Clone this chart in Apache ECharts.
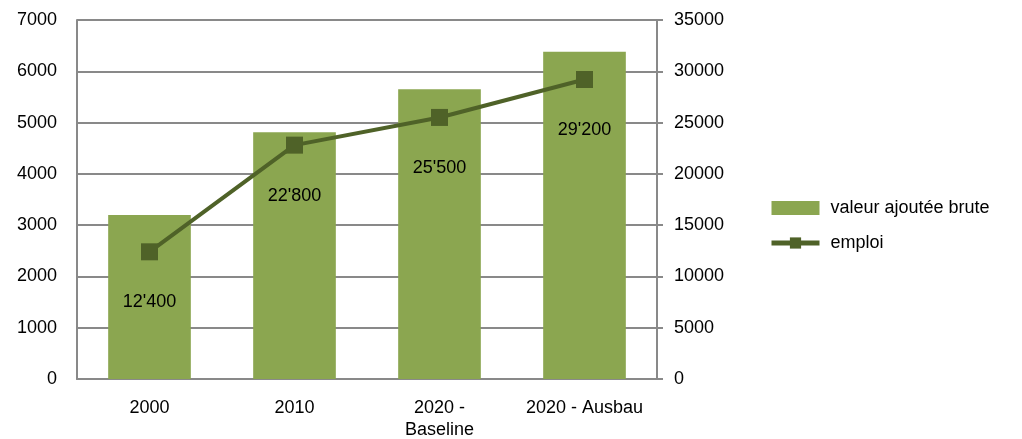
<!DOCTYPE html>
<html><head><meta charset="utf-8">
<script src="https://cdn.jsdelivr.net/npm/echarts@6/dist/echarts.min.js"></script>
<style>html,body{margin:0;padding:0;background:#fff}#c{width:1022px;height:439px}</style>
</head><body><div id="c"></div>
<script>
var categories = ['2000', '2010', '2020 -\nBaseline', '2020 - Ausbau'];
var valeurAjoutee = [3200, 4810, 5650, 6380];
var emploi = [12400, 22800, 25500, 29200];
var emploiLabels = ["12'400", "22'800", "25'500", "29'200"];

var chart = echarts.init(document.getElementById('c'));
var font = 'Liberation Sans, Arial, sans-serif';
var plain = function(v){ return String(v); };
chart.setOption({
  animation: false,
  textStyle: {fontFamily: font},
  grid: {left: 77, right: 365, top: 20, bottom: 60, containLabel: false, outerBoundsMode: 'none'},
  legend: {
    orient: 'vertical', left: 764, top: 194, itemGap: 17, itemWidth: 48, itemHeight: 14,
    textStyle: {fontSize: 18, color: '#000', fontFamily: font, padding: [0,0,0,6]},
    data: [
      {name: 'valeur ajoutée brute', icon: 'rect', itemStyle: {color: '#8ba650'}},
      {name: 'emploi', lineStyle: {width: 5, color: '#4f6228'}, itemStyle: {color: '#4f6228'}}
    ]
  },
  xAxis: {
    type: 'category', data: categories,
    axisLine: {lineStyle: {color: '#898989', width: 2}},
    axisTick: {show: false},
    axisLabel: {color: '#000', fontSize: 18, margin: 18, lineHeight: 22, interval: 0, hideOverlap: false, fontFamily: font}
  },
  yAxis: [
    {type: 'value', min: 0, max: 7000, interval: 1000, position: 'left',
     axisLine: {show: true, lineStyle: {color: '#898989', width: 2}},
     axisTick: {show: false},
     splitLine: {lineStyle: {color: '#898989', width: 2}},
     axisLabel: {color: '#000', fontSize: 18, margin: 20, fontFamily: font, formatter: plain}},
    {type: 'value', min: 0, max: 35000, interval: 5000, position: 'right',
     axisLine: {show: true, lineStyle: {color: '#898989', width: 2}},
     axisTick: {show: true, length: 6, lineStyle: {color: '#898989', width: 2}},
     splitLine: {show: false},
     axisLabel: {color: '#000', fontSize: 18, margin: 17, fontFamily: font, formatter: plain}}
  ],
  series: [
    {name: 'valeur ajoutée brute', type: 'bar', yAxisIndex: 0, data: valeurAjoutee,
     barWidth: '57%', itemStyle: {color: '#8ba650'}},
    {name: 'emploi', type: 'line', yAxisIndex: 1, data: emploi,
     symbol: 'rect', symbolSize: 17,
     lineStyle: {color: '#4f6228', width: 4},
     itemStyle: {color: '#4f6228'},
     label: {show: true, position: 'bottom', distance: 33, fontSize: 18, color: '#000', fontFamily: font,
       formatter: function(p){ return emploiLabels[p.dataIndex]; }}}
  ]
});
</script></body></html>
